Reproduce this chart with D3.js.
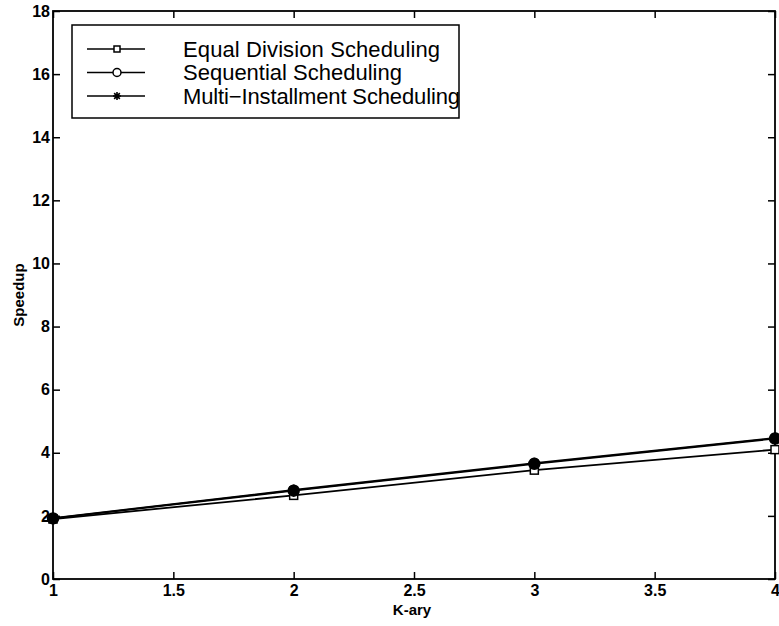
<!DOCTYPE html>
<html>
<head>
<meta charset="utf-8">
<script src="https://cdn.jsdelivr.net/npm/d3@7"></script>
<style>
body{margin:0;background:#fff;}
text{font-family:"Liberation Sans",Arial,Helvetica,sans-serif;fill:#000;}
</style>
</head>
<body>
<svg id="c" width="779" height="626"></svg>
<script>
const kary = [1, 2, 3, 4];
const equalDivision = [1.9, 2.65, 3.45, 4.1];
const sequential = [1.92, 2.8, 3.65, 4.45];
const multiInstallment = [1.93, 2.82, 3.67, 4.47];
const xTicks = [1, 1.5, 2, 2.5, 3, 3.5, 4];
const yTicks = [0, 2, 4, 6, 8, 10, 12, 14, 16, 18];
const seriesNames = ["Equal Division Scheduling", "Sequential Scheduling", "Multi\u2212Installment Scheduling"];

const svg = d3.select("#c");
const L = 53, R = 775, T = 11, B = 579;
const x = d3.scaleLinear().domain([1, 4]).range([L, R]);
const y = d3.scaleLinear().domain([0, 18]).range([B, T]);

svg.append("rect").attr("x", L).attr("y", T).attr("width", R - L).attr("height", B - T)
  .attr("fill", "none").attr("stroke", "#000").attr("stroke-width", 1.8);

const fmt = d => String(d);
const bx = svg.append("g").attr("transform", `translate(0,${B})`)
  .call(d3.axisBottom(x).tickValues(xTicks).tickSize(-7).tickPadding(6).tickFormat(fmt));
const tx = svg.append("g").attr("transform", `translate(0,${T})`)
  .call(d3.axisTop(x).tickValues(xTicks).tickSize(-7).tickFormat(""));
const ly = svg.append("g").attr("transform", `translate(${L},0)`)
  .call(d3.axisLeft(y).tickValues(yTicks).tickSize(-7).tickPadding(3).tickFormat(fmt));
const ry = svg.append("g").attr("transform", `translate(${R},0)`)
  .call(d3.axisRight(y).tickValues(yTicks).tickSize(-7).tickFormat(""));
[bx, tx, ly, ry].forEach(g => {
  g.attr("font-size", null).attr("font-family", null);
  g.select(".domain").remove();
  g.selectAll(".tick line").attr("stroke", "#000").attr("stroke-width", 1.5);
  g.selectAll("text").style("font-size", "16px").style("font-weight", "bold")
    .style("font-family", "'Liberation Sans',Arial,sans-serif").attr("fill", "#000");
});

svg.append("text").attr("x", (L + R) / 2 - 2).attr("y", 615).attr("text-anchor", "middle")
  .style("font-size", "15px").style("font-weight", "bold").text("K-ary");
svg.append("text").attr("transform", `translate(24,${(T + B) / 2}) rotate(-90)`)
  .attr("text-anchor", "middle").style("font-size", "15px").style("font-weight", "bold").text("Speedup");

const line = d3.line().x((d, i) => x(kary[i])).y(d => y(d));
[equalDivision, sequential, multiInstallment].forEach(s => {
  svg.append("path").datum(s).attr("d", line).attr("fill", "none")
    .attr("stroke", "#000").attr("stroke-width", 1.8);
});

function square(g, cx, cy, s) {
  g.append("rect").attr("x", cx - s / 2).attr("y", cy - s / 2).attr("width", s).attr("height", s)
    .attr("fill", "#fff").attr("stroke", "#000").attr("stroke-width", 1.5);
}
function circle(g, cx, cy, r, fill) {
  g.append("circle").attr("cx", cx).attr("cy", cy).attr("r", r)
    .attr("fill", fill).attr("stroke", "#000").attr("stroke-width", 1.5);
}
function star(g, cx, cy, r, w) {
  const p = d3.path();
  for (let k = 0; k < 4; k++) {
    const a = k * Math.PI / 4;
    p.moveTo(cx - r * Math.cos(a), cy - r * Math.sin(a));
    p.lineTo(cx + r * Math.cos(a), cy + r * Math.sin(a));
  }
  g.append("path").attr("d", p.toString()).attr("stroke", "#000").attr("stroke-width", w).attr("fill", "none");
}

const mk = svg.append("g");
kary.forEach((k, i) => {
  square(mk, x(k), y(equalDivision[i]), 8);
  circle(mk, x(k), y(sequential[i]), 5.5, "#000");
  star(mk, x(k), y(multiInstallment[i]), 5.5, 2);
});

const lg = svg.append("g");
lg.append("rect").attr("x", 72).attr("y", 25).attr("width", 387).attr("height", 93)
  .attr("fill", "#fff").attr("stroke", "#000").attr("stroke-width", 1.5);
const rows = [49, 72.5, 96];
const lens = [257, null, 277];
rows.forEach((ry0, i) => {
  lg.append("line").attr("x1", 87).attr("x2", 145).attr("y1", ry0).attr("y2", ry0)
    .attr("stroke", "#000").attr("stroke-width", 1.5);
  if (i === 0) square(lg, 117, ry0, 6);
  if (i === 1) circle(lg, 117, ry0, 4, "#fff");
  if (i === 2) star(lg, 117, ry0, 4, 1.6);
  lg.append("text").attr("x", 183).attr("y", ry0 + 7.5).style("font-size", "22px")
    .attr("textLength", lens[i])
    .text(seriesNames[i]);
});
</script>
</body>
</html>
